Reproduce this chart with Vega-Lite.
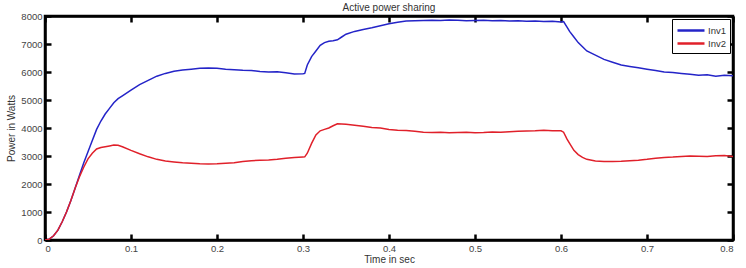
{
  "$schema": "https://vega.github.io/schema/vega-lite/v6.json",
  "autosize": {"type": "none"},
  "padding": {"left": 45, "top": 16, "right": 13, "bottom": 28},
  "width": 688,
  "height": 224,
  "background": "white",
  "title": {"text": "Active power sharing", "font": "Liberation Sans", "fontSize": 10, "fontWeight": "normal", "color": "#333", "offset": 2, "dy": 4},
  "config": {
    "view": {"stroke": "black", "strokeWidth": 2.5},
    "axis": {"grid": false, "domainColor": "black", "domainWidth": 2.5, "tickColor": "black", "tickWidth": 2.5, "tickSize": -6, "labelFont": "Liberation Sans", "labelFontSize": 9.5, "labelColor": "#444", "titleFont": "Liberation Sans", "titleFontSize": 10, "titleFontWeight": "normal", "titleColor": "#333"}
  },
  "data": {"values": [
    {"t":0,"Inv1":0,"Inv2":0},{"t":0.005,"Inv1":30,"Inv2":30},{"t":0.01,"Inv1":150,"Inv2":150},{"t":0.015,"Inv1":350,"Inv2":350},{"t":0.02,"Inv1":650,"Inv2":650},{"t":0.025,"Inv1":1000,"Inv2":1000},{"t":0.03,"Inv1":1400,"Inv2":1400},{"t":0.035,"Inv1":1850,"Inv2":1850},{"t":0.04,"Inv1":2300,"Inv2":2250},{"t":0.045,"Inv1":2750,"Inv2":2600},{"t":0.05,"Inv1":3150,"Inv2":2900},{"t":0.055,"Inv1":3550,"Inv2":3100},{"t":0.06,"Inv1":3950,"Inv2":3250},{"t":0.065,"Inv1":4250,"Inv2":3300},{"t":0.07,"Inv1":4500,"Inv2":3330},{"t":0.075,"Inv1":4700,"Inv2":3360},{"t":0.08,"Inv1":4900,"Inv2":3390},{"t":0.085,"Inv1":5050,"Inv2":3380},{"t":0.09,"Inv1":5150,"Inv2":3330},{"t":0.1,"Inv1":5350,"Inv2":3200},{"t":0.11,"Inv1":5550,"Inv2":3080},{"t":0.12,"Inv1":5700,"Inv2":2970},{"t":0.13,"Inv1":5850,"Inv2":2880},{"t":0.14,"Inv1":5950,"Inv2":2820},{"t":0.15,"Inv1":6030,"Inv2":2790},{"t":0.16,"Inv1":6070,"Inv2":2760},{"t":0.17,"Inv1":6100,"Inv2":2740},{"t":0.18,"Inv1":6130,"Inv2":2720},{"t":0.19,"Inv1":6140,"Inv2":2710},{"t":0.2,"Inv1":6130,"Inv2":2720},{"t":0.21,"Inv1":6100,"Inv2":2740},{"t":0.22,"Inv1":6080,"Inv2":2760},{"t":0.23,"Inv1":6060,"Inv2":2800},{"t":0.24,"Inv1":6050,"Inv2":2830},{"t":0.25,"Inv1":6020,"Inv2":2850},{"t":0.26,"Inv1":6000,"Inv2":2860},{"t":0.27,"Inv1":6010,"Inv2":2880},{"t":0.28,"Inv1":5970,"Inv2":2920},{"t":0.29,"Inv1":5930,"Inv2":2950},{"t":0.3,"Inv1":5940,"Inv2":2960},{"t":0.302,"Inv1":5950,"Inv2":2970},{"t":0.305,"Inv1":6250,"Inv2":3100},{"t":0.31,"Inv1":6550,"Inv2":3450},{"t":0.315,"Inv1":6750,"Inv2":3750},{"t":0.32,"Inv1":6950,"Inv2":3900},{"t":0.325,"Inv1":7050,"Inv2":3950},{"t":0.33,"Inv1":7100,"Inv2":4000},{"t":0.335,"Inv1":7120,"Inv2":4080},{"t":0.34,"Inv1":7150,"Inv2":4150},{"t":0.345,"Inv1":7250,"Inv2":4140},{"t":0.35,"Inv1":7350,"Inv2":4130},{"t":0.36,"Inv1":7450,"Inv2":4100},{"t":0.37,"Inv1":7520,"Inv2":4060},{"t":0.38,"Inv1":7580,"Inv2":4020},{"t":0.39,"Inv1":7650,"Inv2":4000},{"t":0.4,"Inv1":7720,"Inv2":3950},{"t":0.41,"Inv1":7780,"Inv2":3920},{"t":0.42,"Inv1":7820,"Inv2":3910},{"t":0.43,"Inv1":7830,"Inv2":3880},{"t":0.44,"Inv1":7840,"Inv2":3850},{"t":0.45,"Inv1":7850,"Inv2":3840},{"t":0.46,"Inv1":7840,"Inv2":3850},{"t":0.47,"Inv1":7860,"Inv2":3830},{"t":0.48,"Inv1":7850,"Inv2":3840},{"t":0.49,"Inv1":7830,"Inv2":3850},{"t":0.5,"Inv1":7840,"Inv2":3830},{"t":0.51,"Inv1":7850,"Inv2":3840},{"t":0.52,"Inv1":7830,"Inv2":3860},{"t":0.53,"Inv1":7840,"Inv2":3850},{"t":0.54,"Inv1":7820,"Inv2":3870},{"t":0.55,"Inv1":7830,"Inv2":3880},{"t":0.56,"Inv1":7810,"Inv2":3890},{"t":0.57,"Inv1":7820,"Inv2":3900},{"t":0.58,"Inv1":7800,"Inv2":3920},{"t":0.59,"Inv1":7810,"Inv2":3900},{"t":0.6,"Inv1":7790,"Inv2":3900},{"t":0.603,"Inv1":7800,"Inv2":3850},{"t":0.607,"Inv1":7600,"Inv2":3600},{"t":0.61,"Inv1":7450,"Inv2":3450},{"t":0.615,"Inv1":7250,"Inv2":3200},{"t":0.62,"Inv1":7050,"Inv2":3050},{"t":0.625,"Inv1":6900,"Inv2":2950},{"t":0.63,"Inv1":6750,"Inv2":2880},{"t":0.64,"Inv1":6600,"Inv2":2820},{"t":0.65,"Inv1":6450,"Inv2":2800},{"t":0.66,"Inv1":6350,"Inv2":2800},{"t":0.67,"Inv1":6250,"Inv2":2810},{"t":0.68,"Inv1":6200,"Inv2":2830},{"t":0.69,"Inv1":6150,"Inv2":2850},{"t":0.7,"Inv1":6100,"Inv2":2880},{"t":0.71,"Inv1":6050,"Inv2":2920},{"t":0.72,"Inv1":6000,"Inv2":2950},{"t":0.73,"Inv1":5980,"Inv2":2960},{"t":0.74,"Inv1":5950,"Inv2":2980},{"t":0.75,"Inv1":5920,"Inv2":3000},{"t":0.76,"Inv1":5880,"Inv2":2990},{"t":0.77,"Inv1":5900,"Inv2":2980},{"t":0.78,"Inv1":5850,"Inv2":3010},{"t":0.79,"Inv1":5880,"Inv2":3020},{"t":0.8,"Inv1":5870,"Inv2":2980}
  ]},
  "transform": [{"fold": ["Inv1", "Inv2"], "as": ["series", "power"]}],
  "layer": [
    {
      "mark": {"type": "line", "strokeWidth": 1.5, "clip": true},
      "encoding": {
        "x": {"field": "t", "type": "quantitative", "scale": {"domain": [0, 0.8], "nice": false}, "axis": {"title": "Time in sec", "values": [0,0.1,0.2,0.3,0.4,0.5,0.6,0.7,0.8], "format": "~g", "titlePadding": 2, "labelPadding": 9}},
        "y": {"field": "power", "type": "quantitative", "scale": {"domain": [0, 8000], "nice": false}, "axis": {"title": "Power in Watts", "values": [0,1000,2000,3000,4000,5000,6000,7000,8000], "format": "d", "titlePadding": 4, "labelPadding": 9}},
        "color": {"field": "series", "type": "nominal", "scale": {"domain": ["Inv1", "Inv2"], "range": ["#2424c8", "#e0202a"]},
          "legend": {"title": null, "orient": "top-right", "offset": 3, "symbolType": "M-1,0H3.5", "symbolStrokeWidth": 2.5, "symbolSize": 144, "symbolOffset": 0, "labelFont": "Liberation Sans", "labelFontSize": 9.5, "labelColor": "#333", "labelOffset": 17, "strokeColor": "black", "fillColor": "white", "padding": 4, "rowPadding": 0}}
      }
    },
    {
      "mark": {"type": "line", "opacity": 0},
      "encoding": {
        "x": {"field": "t", "type": "quantitative", "axis": {"orient": "top", "title": null, "labels": false, "values": [0,0.1,0.2,0.3,0.4,0.5,0.6,0.7,0.8]}},
        "y": {"field": "power", "type": "quantitative", "axis": {"orient": "right", "title": null, "labels": false, "values": [0,1000,2000,3000,4000,5000,6000,7000,8000]}}
      }
    }
  ],
  "resolve": {"axis": {"x": "independent", "y": "independent"}}
}
